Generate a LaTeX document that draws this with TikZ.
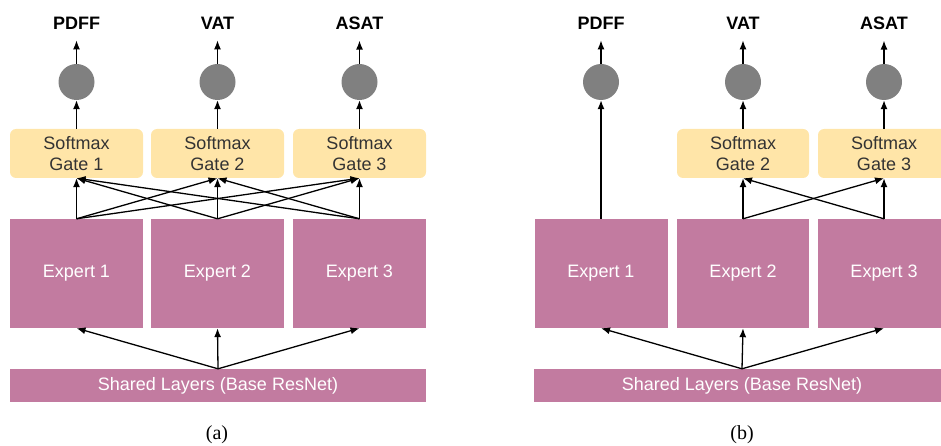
\documentclass[tikz,border=0pt]{standalone}
\usepackage{fontspec}
\setmainfont{Liberation Sans}
\newfontfamily\panelfont{Liberation Serif}
\usepackage{xcolor}
\usetikzlibrary{arrows.meta}
\definecolor{gatefill}{RGB}{255,229,168}
\definecolor{expertfill}{RGB}{194,123,160}
\definecolor{dotgray}{RGB}{128,128,128}
\definecolor{gatetext}{RGB}{51,51,51}

\begin{document}
\begin{tikzpicture}[x=1pt, y=-1pt,
        every node/.style={font=\fontsize{18}{21}\selectfont},
        gate/.style={fill=gatefill, text=gatetext, rounded corners=6pt, minimum width=133pt, minimum height=49pt, align=center, inner sep=0pt},
        expert/.style={fill=expertfill, text=white, minimum width=133pt, minimum height=109pt, inner sep=0pt},
        shared/.style={fill=expertfill, text=white, minimum width=416pt, minimum height=33pt, inner sep=0pt},
        outdot/.style={circle, fill=dotgray, minimum size=36pt, inner sep=0pt},
        task/.style={font=\fontsize{18}{21}\selectfont\bfseries, inner sep=0pt},
        link/.style={-{Latex[length=9pt,width=7pt]}, line width=1.3pt},
        tolabel/.style={link, shorten >=11pt}]

        \useasboundingbox (0,0) rectangle (941,446);

        % (a) every gate sees every expert
        \node[shared] (sa) at (218,385.5) {Shared Layers (Base ResNet)};
        \node[expert] (ea1) at (76.5,273.5) {Expert 1};
        \node[expert] (ea2) at (217.5,273.5) {Expert 2};
        \node[expert] (ea3) at (359.5,273.5) {Expert 3};
        \node[gate] (ga1) at (76.5,153.5) {Softmax\\Gate 1};
        \node[gate] (ga2) at (217.5,153.5) {Softmax\\Gate 2};
        \node[gate] (ga3) at (359.5,153.5) {Softmax\\Gate 3};
        \node[outdot] (oa1) at (76.5,82) {};
        \node[outdot] (oa2) at (217.5,82) {};
        \node[outdot] (oa3) at (359.5,82) {};
        \node[task] (ta1) at (76.5,23) {PDFF};
        \node[task] (ta2) at (217.5,23) {VAT};
        \node[task] (ta3) at (359.5,23) {ASAT};
        \node[font=\panelfont\fontsize{20}{24}\selectfont] (capa) at (217,435) {(a)};

        \draw (sa.north) edge[link] (ea1.south) edge[link] (ea2.south) edge[link] (ea3.south);
        \draw (ea1.north) edge[link] (ga1.south) edge[link] (ga2.south) edge[link] (ga3.south);
        \draw (ea2.north) edge[link] (ga1.south) edge[link] (ga2.south) edge[link] (ga3.south);
        \draw (ea3.north) edge[link] (ga1.south) edge[link] (ga2.south) edge[link] (ga3.south);
        \draw[link] (ga1.north) -- (oa1.south);
        \draw[link] (ga2.north) -- (oa2.south);
        \draw[link] (ga3.north) -- (oa3.south);
        \draw[tolabel] (oa1.north) -- (ta1.south);
        \draw[tolabel] (oa2.north) -- (ta2.south);
        \draw[tolabel] (oa3.north) -- (ta3.south);

        % (b) PDFF bypasses the gates
        \node[shared] (sb) at (742,385.5) {Shared Layers (Base ResNet)};
        \node[expert] (eb1) at (601,273.5) {Expert 1};
        \node[expert, minimum width=132pt] (eb2) at (743,273.5) {Expert 2};
        \node[expert, minimum width=132pt] (eb3) at (884,273.5) {Expert 3};
        \node[gate, minimum width=132pt] (gb2) at (743,153.5) {Softmax\\Gate 2};
        \node[gate, minimum width=132pt] (gb3) at (884,153.5) {Softmax\\Gate 3};
        \node[outdot] (ob1) at (601,82) {};
        \node[outdot] (ob2) at (743,82) {};
        \node[outdot] (ob3) at (884,82) {};
        \node[task] (tb1) at (601,23) {PDFF};
        \node[task] (tb2) at (743,23) {VAT};
        \node[task] (tb3) at (884,23) {ASAT};
        \node[font=\panelfont\fontsize{20}{24}\selectfont] (capb) at (742,435) {(b)};

        \draw (sb.north) edge[link] (eb1.south) edge[link] (eb2.south) edge[link] (eb3.south);
        \draw[link] (eb1.north) -- (ob1.south);
        \draw (eb2.north) edge[link] (gb2.south) edge[link] (gb3.south);
        \draw (eb3.north) edge[link] (gb2.south) edge[link] (gb3.south);
        \draw[link] (gb2.north) -- (ob2.south);
        \draw[link] (gb3.north) -- (ob3.south);
        \draw[tolabel] (ob1.north) -- (tb1.south);
        \draw[tolabel] (ob2.north) -- (tb2.south);
        \draw[tolabel] (ob3.north) -- (tb3.south);

\end{tikzpicture}
\end{document}
